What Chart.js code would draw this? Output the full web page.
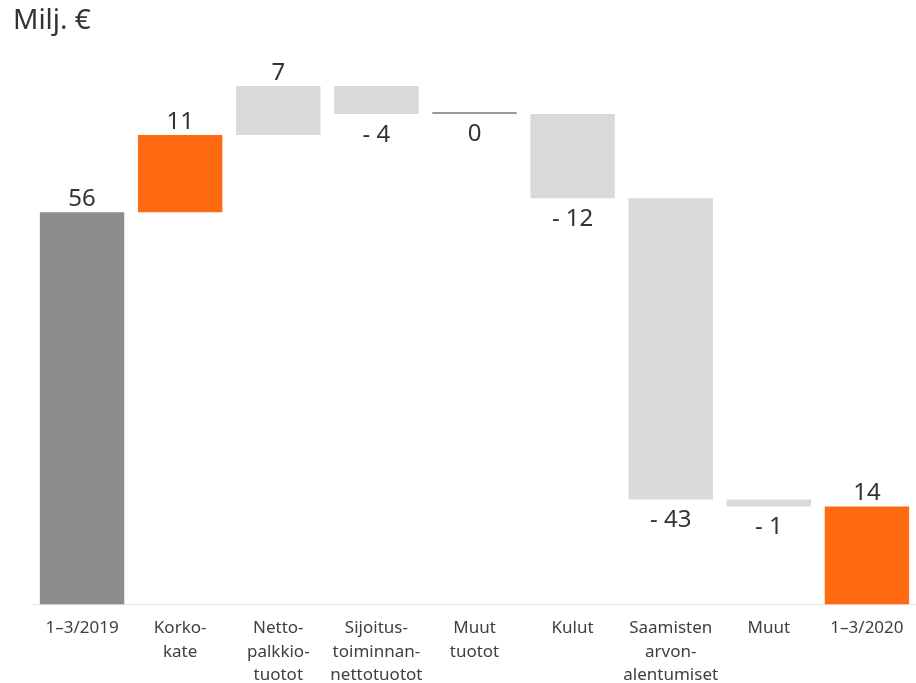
<!DOCTYPE html>
<html>
<head>
<meta charset="utf-8">
<script src="https://cdn.jsdelivr.net/npm/chart.js@4/dist/chart.umd.min.js"></script>
<style>
  html, body { margin: 0; padding: 0; background: #fff; }
  #wrap { width: 916px; height: 683px; position: relative; }
</style>
</head>
<body>
<div id="wrap"><canvas id="myChart"></canvas></div>
<script>
// waterfall data
const categories = [
    ['1–3/2019'],
    ['Korko-', 'kate'],
    ['Netto-', 'palkkio-', 'tuotot'],
    ['Sijoitus-', 'toiminnan-', 'nettotuotot'],
    ['Muut', 'tuotot'],
    ['Kulut'],
    ['Saamisten', 'arvon-', 'alentumiset'],
    ['Muut'],
    ['1–3/2020']
];
const changes = [56, 11, 7, -4, 0, -12, -43, -1, 14];
const isTotal = [true, false, false, false, false, false, false, false, true];
const barColors = ['#8c8c8c', '#ff6a13', '#d9d9d9', '#d9d9d9', '#9a9a9a', '#d9d9d9', '#d9d9d9', '#d9d9d9', '#ff6a13'];

function buildRanges(){
    let run = 0;
    const out = [];
    for (let i = 0; i < changes.length; i++) {
        if (isTotal[i]) {
            out.push([0, changes[i]]);
            run = changes[i];
        } else {
            out.push([run, run + changes[i]]);
            run += changes[i];
        }
    }
    return out;
}

function labelText(i){
    const v = changes[i];
    if (isTotal[i] || v >= 0) return String(v);
    return '- ' + Math.abs(v);
}

const valueLabels = {
    id: 'valueLabels',
    afterDatasetsDraw(chart){
        const ctx = chart.ctx;
        const meta = chart.getDatasetMeta(0);
        ctx.save();
        ctx.font = '24px "Noto Sans", sans-serif';
        ctx.fillStyle = '#333';
        ctx.textAlign = 'center';
        meta.data.forEach((bar, i) => {
            const top = Math.min(bar.y, bar.base);
            const bottom = Math.max(bar.y, bar.base);
            if (changes[i] < 0 && !isTotal[i]) {
                ctx.textBaseline = 'top';
                ctx.fillText(labelText(i), bar.x, bottom + 9);
            } else if (changes[i] === 0) {
                ctx.textBaseline = 'top';
                ctx.fillText(labelText(i), bar.x, bottom + 8);
            } else {
                ctx.textBaseline = 'bottom';
                ctx.fillText(labelText(i), bar.x, top - 1);
            }
        });
        // unit caption
        ctx.font = '28px "Noto Sans", sans-serif';
        ctx.textAlign = 'left';
        ctx.textBaseline = 'alphabetic';
        ctx.fillText('Milj. €', 13, 29);
        ctx.restore();
    }
};

const ctx = document.getElementById('myChart').getContext('2d');

const myChart = new Chart(ctx, {
    type: 'bar',
    data: {
        labels: categories,
        datasets: [{
            data: buildRanges(),
            backgroundColor: barColors,
            borderWidth: 0,
            minBarLength: 2,
            barPercentage: 0.86,
            categoryPercentage: 1
        }]
    },
    options: {
        responsive: true,
        maintainAspectRatio: false,
        animation: false,
        layout: {
            padding: { left: 33, right: 0, top: 44, bottom: -16 }
        },
        plugins: {
            legend: { display: false },
            tooltip: { enabled: false }
        },
        scales: {
            x: {
                grid: { display: false, drawTicks: false },
                border: { display: true, color: '#e6e6e6', width: 1 },
                ticks: {
                    color: '#404040',
                    font: { size: 17, family: '"Noto Sans", sans-serif', lineHeight: 1.38 },
                    padding: 12,
                    maxRotation: 0,
                    autoSkip: false
                }
            },
            y: {
                display: false,
                min: 0,
                max: 80
            }
        }
    },
    plugins: [valueLabels]
});
</script>
</body>
</html>
